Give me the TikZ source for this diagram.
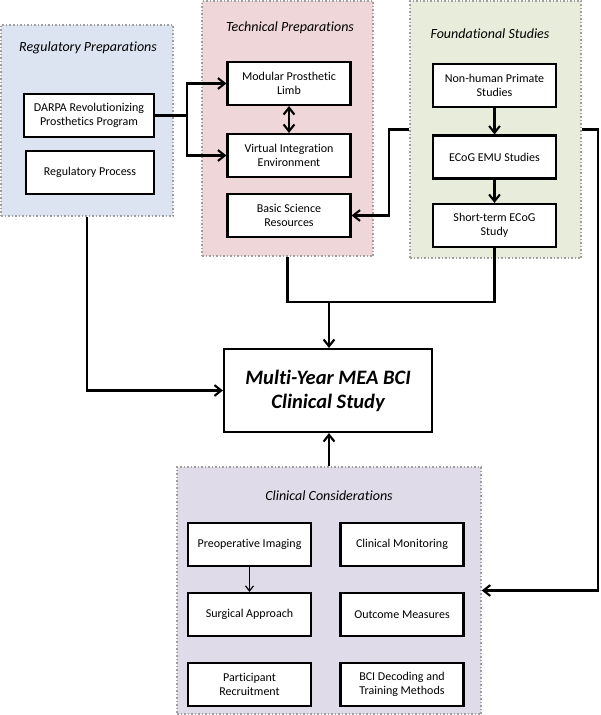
\documentclass[tikz,border=0pt]{standalone}
\usepackage{fontspec}
\setmainfont{Carlito}[Ligatures=NoCommon]
\usetikzlibrary{arrows.meta,positioning,calc}
\definecolor{regblue}{RGB}{219,228,240}
\definecolor{techpink}{RGB}{239,215,217}
\definecolor{foundgreen}{RGB}{231,236,219}
\definecolor{clinlilac}{RGB}{223,219,233}
\begin{document}
\begin{tikzpicture}[x=1pt,y=-1pt,>={Straight Barb[length=2.4mm,width=3.8mm]},
 n/.style={draw,line width=2.1pt,fill=white,minimum width=123pt,minimum height=43pt,align=center,inner sep=2pt,font=\fontsize{12}{14.5}\selectfont},
 p/.style={draw=gray!75,dotted,line width=1.5pt,inner sep=0pt},
 ttl/.style={font=\fontsize{14}{16}\selectfont\itshape},
 a/.style={->,line width=2.1pt}]
\useasboundingbox (0,0) rectangle (600,715);
% panels
\node[p,fill=regblue,minimum width=172pt,minimum height=191pt] (reg) at (87,120.5) {};
\node[p,fill=techpink,minimum width=171pt,minimum height=255pt] (tech) at (287.5,128.5) {};
\node[p,fill=foundgreen,minimum width=171pt,minimum height=257pt] (found) at (495.5,129.5) {};
\node[p,fill=clinlilac,minimum width=304pt,minimum height=247pt] (clin) at (329,590.5) {};
\node[ttl] (regt) at (88,48) {Regulatory Preparations};
\node[ttl] (techt) at (290,28) {Technical Preparations};
\node[ttl] (foundt) at (490,34) {Foundational Studies};
\node[ttl] (clint) at (329,496) {Clinical Considerations};
% boxes
\node[n,minimum width=130pt] (darpa) at (89,115.5) {DARPA Revolutionizing\\Prosthetics Program};
\node[n,minimum width=128pt] (regp) at (90,172.5) {Regulatory Process};
\node[n] (mpl) at (289,83.5) {Modular Prosthetic\\Limb};
\node[n] (vie) at (289,155.5) {Virtual Integration\\Environment};
\node[n] (bsr) at (289,215.5) {Basic Science\\Resources};
\node[n] (nhp) at (494.5,85.5) {Non-human Primate\\Studies};
\node[n] (emu) at (494.5,157) {ECoG EMU Studies};
\node[n] (ste) at (494.5,225.5) {Short-term ECoG\\Study};
\node[n,minimum width=208pt,minimum height=83pt,font=\fontsize{20.5}{24}\selectfont\bfseries\itshape] (main) at (328,390.5) {Multi-Year MEA BCI\\Clinical Study};
\node[n] (pre) at (249.5,544.5) {Preoperative Imaging};
\node[n] (mon) at (402,544.5) {Clinical Monitoring};
\node[n] (surg) at (249.5,614.5) {Surgical Approach};
\node[n] (outc) at (402,614.5) {Outcome Measures};
\node[n] (part) at (249.5,684.5) {Participant\\Recruitment};
\node[n] (dec) at (402,684.5) {BCI Decoding and\\Training Methods};
% connectors
\coordinate (sp) at (187,115.5);
\coordinate (jn) at (329,302);
\draw[line width=2.1pt] (darpa.east) -- (sp);
\draw[a] (sp) |- (mpl.west); \draw[a] (sp) |- (vie.west);
\draw[<->,line width=2.1pt] (mpl) -- (vie);
\draw[a] (nhp) -- (emu); \draw[a] (emu) -- (ste);
\draw[a] (found.west) -- ++(-20,0) |- (bsr.east);
\draw[a] (found.east) -- (598,129.5) |- (clin.east);
\draw[line width=2.1pt] (ste.south) |- (tech.south |- jn) -- (tech.south);
\draw[a] (jn) -- (jn |- main.north);
\draw[a] (reg.south) |- (main.west);
\draw[a] (clin.north) -- (clin.north |- main.south);
\draw[-{Straight Barb[length=1.8mm,width=2.8mm]},line width=1.2pt] (pre) -- (surg);
\end{tikzpicture}
\end{document}
